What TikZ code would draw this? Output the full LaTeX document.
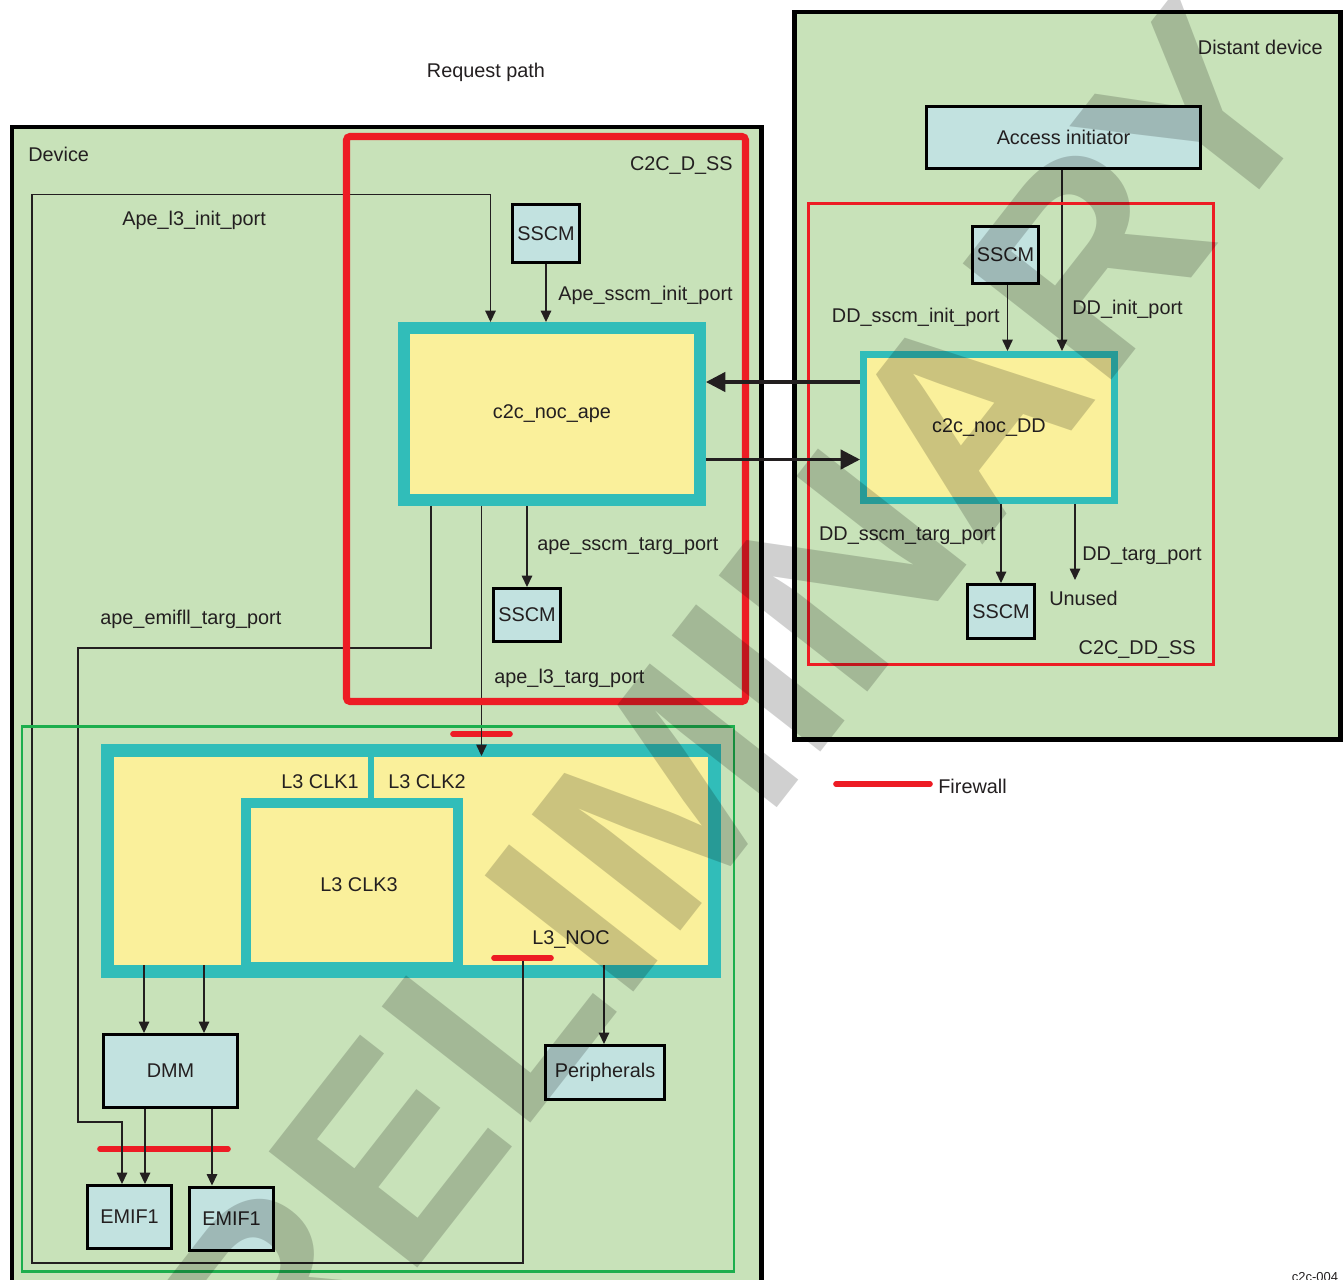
\documentclass[tikz,border=0pt]{standalone}
\usepackage{fontspec}
\setmainfont{Liberation Sans}
\usepackage{tikz}
\usetikzlibrary{arrows.meta}
\definecolor{devgreen}{HTML}{C8E2B9}
\definecolor{boxblue}{HTML}{C2E2E0}
\definecolor{nocteal}{HTML}{31BDB9}
\definecolor{nocyellow}{HTML}{FAF09B}
\definecolor{fwred}{HTML}{ED1C24}
\definecolor{zonegreen}{HTML}{1DAE4D}
\definecolor{ink}{HTML}{231F20}
\newcommand\labfont{\fontsize{11.3}{13.5}\selectfont}

\begin{document}
\begin{tikzpicture}[
  x=0.02cm, y=-0.02cm,
  every node/.style={font=\labfont, text=ink},
  unit/.style={
    draw=black,
    line width=1.7pt,
    fill=boxblue,
    inner sep=0pt,
    align=center,
  },
  noc/.style={
    draw=nocteal,
    fill=nocyellow,
    inner sep=0pt,
  },
  tag/.style={
    inner sep=0pt,
    text height=8pt,
    text depth=0pt,
  },
  port/.style={
    -{Triangle[length=6.5pt, width=6pt]},
    line width=0.7pt,
    draw=ink,
  },
  bus/.style={
    -{Triangle[length=11pt, width=11pt]},
    line width=1.8pt,
    draw=ink,
  },
  firewall/.style={
    draw=fwred,
    line width=3.2pt,
    line cap=round,
  },
  chip/.style={
    draw=black,
    line width=2.3pt,
    fill=devgreen,
  },
]
  \useasboundingbox (0,0) rectangle (1343,1279);

  \begin{scope}
    \clip (0,0) rectangle (1343,1279);
    \draw[chip] (12,127) rectangle (761.5,1320);
  \end{scope}
  \draw[chip] (794.5,12) rectangle (1340.5,739.5);

  % distant device
  \node[unit, minimum width=5.48cm, minimum height=1.24cm] (access) at (1063.5,137.5) {Access initiator};
  \node[unit, minimum width=1.32cm, minimum height=1.14cm] (ddsscmi) at (1005.5,255) {SSCM};
  \node[noc, line width=4pt, minimum width=5.02cm, minimum height=2.92cm] (ddnoc) at (989,427.5) {c2c\_noc\_DD};
  \node[unit, minimum width=1.34cm, minimum height=1.08cm] (ddsscmt) at (1001,611.5) {SSCM};

  % device
  \node[unit, minimum width=1.34cm, minimum height=1.16cm] (apesscmi) at (546,233.5) {SSCM};
  \node[noc, line width=6.8pt, minimum width=5.92cm, minimum height=3.44cm] (apenoc) at (552,414) {c2c\_noc\_ape};
  \node[unit, minimum width=1.34cm, minimum height=1.06cm] (apesscmt) at (527,615) {SSCM};

  \node[noc, line width=7.4pt, minimum width=12.15cm, minimum height=4.44cm] (l3noc) at (411.25,861) {};
  \draw[nocteal, line width=3.4pt] (371,752) -- (371,804);
  \node[noc, line width=5.7pt, minimum width=4.24cm, minimum height=3.3cm] (l3clk3) at (352,885) {\hspace{8pt}L3 CLK3};

  \node[unit, minimum width=2.68cm, minimum height=1.46cm] (dmm) at (170.5,1071) {DMM};
  \node[unit, minimum width=1.68cm, minimum height=1.26cm] (emifa) at (129.5,1217) {EMIF1};
  \node[unit, minimum width=1.68cm, minimum height=1.26cm] (emifb) at (231.5,1218.5) {EMIF1};
  \node[unit, minimum width=2.38cm, minimum height=1.08cm] (periph) at (605,1072.5) {Peripherals};

  % firewalls
  \draw[firewall] (453,734) -- (510,734);
  \draw[firewall] (494,958) -- (551,958);
  \draw[firewall] (100,1149) -- (228,1149);
  \draw[firewall] (836,784) -- (930,784);

  \coordinate (l3out) at (523,961);
  \draw[port] (l3out) |- (32,1263) |- (490.5,194.5) -- (490.5,194.5 |- apenoc.north);
  \draw[port] (apesscmi) -- (apesscmi.south |- apenoc.north);
  \draw[port] (apenoc.south -| 431,0) |- (78,648) |- (122,1122) -- (122,1122 |- emifa.north);
  \draw[port] (apenoc.south -| 481.5,0) -- (481.5,756);
  \draw[port] (apenoc.south -| 527,0) -- (apesscmt.north);
  \draw[port] (144,965) -- (144,965 |- dmm.north);
  \draw[port] (204,965) -- (204,965 |- dmm.north);
  \draw[port] (604,965) -- (604,965 |- periph.north);
  \draw[port] (dmm.south -| 145,0) -- (145,0 |- emifa.north);
  \draw[port] (dmm.south -| 212,0) -- (212,0 |- emifb.north);

  \draw[port] (ddsscmi.south -| 1007.5,0) -- (1007.5,0 |- ddnoc.north);
  \draw[port] (access.south -| 1062,0) -- (1062,0 |- ddnoc.north);
  \draw[port] (ddnoc.south -| 1001,0) -- (ddsscmt.north);
  \draw[port] (ddnoc.south -| 1075,0) -- (1075,580);

  % subsystems
  \draw[fwred, line width=4pt, rounded corners=2pt] (346.5,136.5) rectangle (745.5,701.5);
  \draw[fwred, line width=1.7pt] (808,203) rectangle (1213,664);
  \draw[zonegreen, line width=1.7pt] (22,726) rectangle (734,1271);

  \draw[bus] (ddnoc.west |- 0,382) -- (apenoc.east |- 0,382);
  \draw[bus] (apenoc.east |- 0,459.5) -- (ddnoc.west |- 0,459.5);

  % labels
  \node[tag] (reqpath) at (486,70) {Request path};
  \node[tag, anchor=west] (devlbl) at (28,154) {Device};
  \node[tag, anchor=east] (distlbl) at (1323,47) {Distant device};
  \node[tag, anchor=east] (dsslbl) at (733,163) {C2C\_D\_SS};
  \node[tag, anchor=east] (ddsslbl) at (1196,647) {C2C\_DD\_SS};
  \node[tag, anchor=west] (l3initlbl) at (122,218) {Ape\_l3\_init\_port};
  \node[tag, anchor=west] (sscminitlbl) at (558,293) {Ape\_sscm\_init\_port};
  \node[tag, anchor=west] (sscmtarglbl) at (537,543) {ape\_sscm\_targ\_port};
  \node[tag, anchor=west] (emiflbl) at (100,617) {ape\_emifll\_targ\_port};
  \node[tag, anchor=west] (l3targlbl) at (494,676) {ape\_l3\_targ\_port};
  \node[tag, anchor=east] (ddsscmilbl) at (1000,315) {DD\_sscm\_init\_port};
  \node[tag, anchor=west] (ddinitlbl) at (1072,307) {DD\_init\_port};
  \node[tag, anchor=east] (ddsscmtlbl) at (996,533) {DD\_sscm\_targ\_port};
  \node[tag, anchor=west] (ddtarglbl) at (1082,553) {DD\_targ\_port};
  \node[tag, anchor=west] (unusedlbl) at (1049,598) {Unused};
  \node[tag, anchor=east] (clkalbl) at (359,781) {L3 CLK1};
  \node[tag, anchor=west] (clkblbl) at (388,781) {L3 CLK2};
  \node[tag] (l3lbl) at (571,937) {L3\_NOC};
  \node[tag, anchor=west] (fwlbl) at (938,786) {Firewall};
  \node[inner sep=0pt, anchor=base, font=\fontsize{7.4}{8}\selectfont] (figid) at (1315,1281.5) {c2c-004};

  \node[rotate=52, inner sep=0pt, text=black, text opacity=0.185,
        font=\fontsize{156}{156}\selectfont\bfseries] (wmark) at (676,784) {PRELIMINARY};
\end{tikzpicture}
\end{document}
